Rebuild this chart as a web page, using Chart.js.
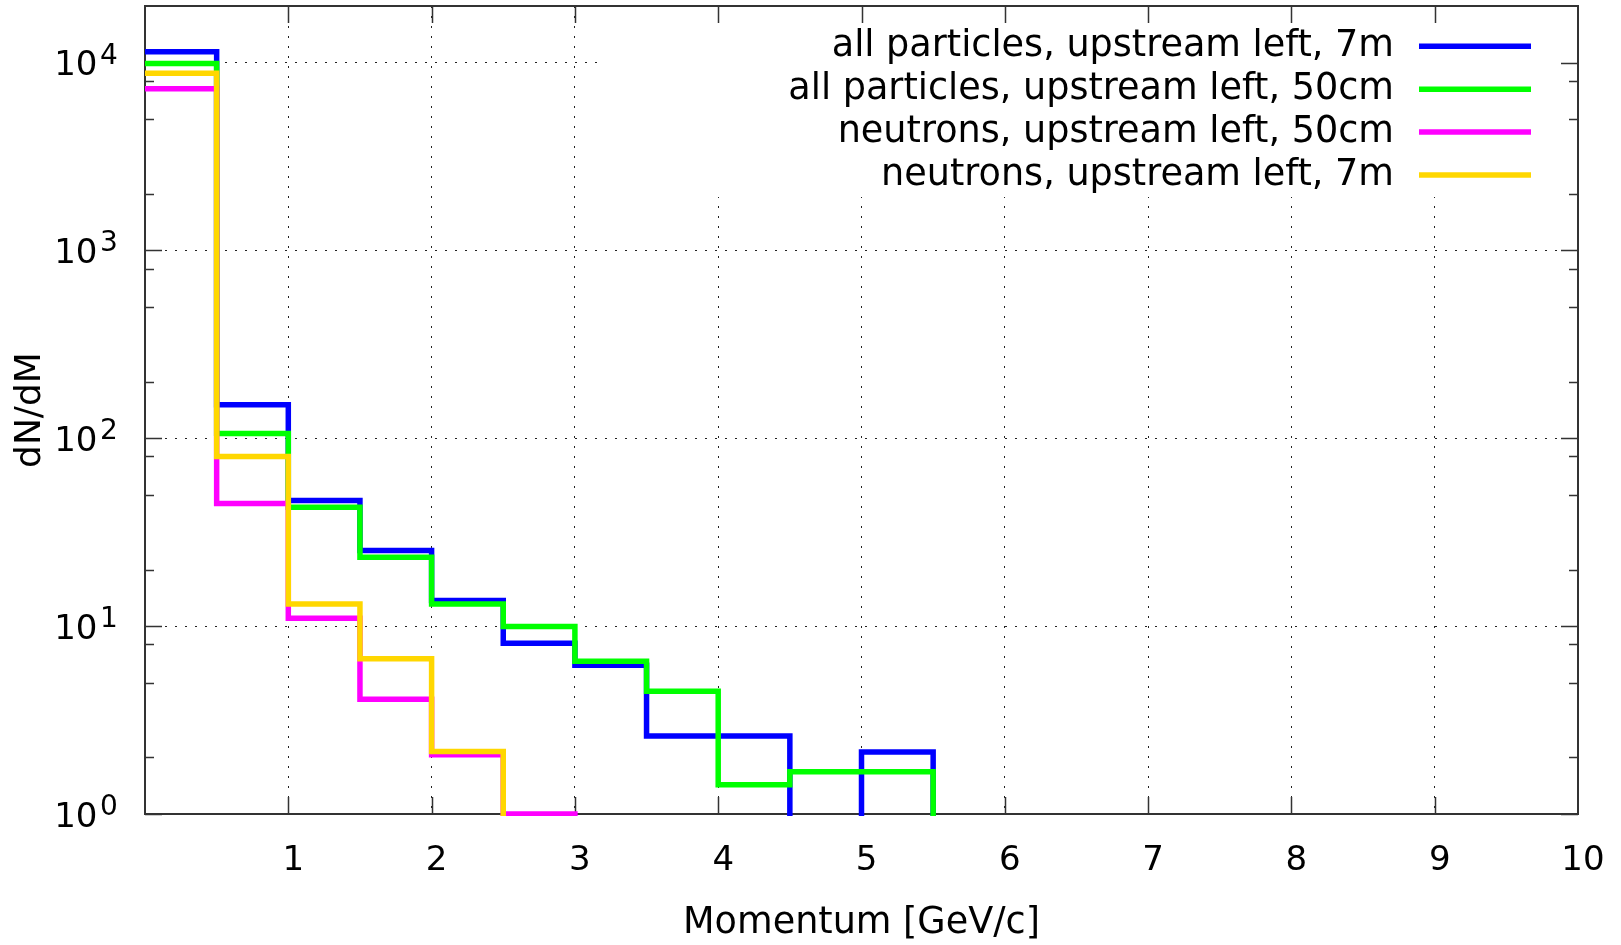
<!DOCTYPE html>
<html>
<head>
<meta charset="utf-8">
<script src="https://cdn.jsdelivr.net/npm/chart.js@4.4.0/dist/chart.umd.min.js"></script>
<style>
    html, body { margin: 0; padding: 0; background: #fff; }
    #wrap { width: 1621px; height: 945px; }
</style>
</head>
<body>
<div id="wrap"><canvas id="myChart"></canvas></div>
<script>

Chart.defaults.font.family = '"DejaVu Sans", sans-serif';
Chart.defaults.color = '#000';

// left edge of every bin (GeV/c), bins are 0.5 wide
var binEdges = [0, 0.5, 1, 1.5, 2, 2.5, 3, 3.5, 4, 4.5, 5, 5.5];

// dN/dM per bin; 0 = empty bin
var allUp7m    = [11400, 151, 46.7, 25.3, 13.7, 8.1, 6.2, 2.6, 2.6, 0, 2.14, 0];
var allUp50cm  = [9870, 106, 43, 23.3, 13.1, 9.95, 6.5, 4.5, 1.43, 1.68, 1.68, 0];
var neutUp50cm = [7260, 45, 11, 4.08, 2.07, 1, 0];
var neutUp7m   = [8760, 80, 13.1, 6.7, 2.15, 0];

var seriesLabels = [
    'all particles, upstream left, 7m',
    'all particles, upstream left, 50cm',
    'neutrons, upstream left, 50cm',
    'neutrons, upstream left, 7m'
];
var seriesColors = ['#0000ff', '#00ff00', '#ff00ff', '#ffd700'];

var xTickValues = [1, 2, 3, 4, 5, 6, 7, 8, 9];
var yDecades = [1, 10, 100, 1000, 10000];
var yExponents = ['0', '1', '2', '3', '4'];
var yMinorSteps = [2, 5, 8];

var Y_MIN = 1, Y_MAX = 20000;
var EMPTY = 0.1;   // below the axis, so an empty bin drops out of the frame


function steps(values) {
    return values.map(function (v, i) {
        return { x: binEdges[i], y: v > 0 ? v : EMPTY };
    });
}

var allSeries = [allUp7m, allUp50cm, neutUp50cm, neutUp7m];

var datasets = allSeries.map(function (vals, i) {
    return {
        label: seriesLabels[i],
        data: steps(vals),
        borderColor: seriesColors[i],
        backgroundColor: seriesColors[i],
        borderWidth: 5.5,
        borderJoinStyle: 'miter',
        borderCapStyle: 'butt',
        stepped: 'before',
        pointRadius: 0,
        fill: false,
        clip: { left: 0, top: 0, right: 0, bottom: 2 },
        order: allSeries.length - i      // gnuplot draws the last one on top
    };
});


function hideEdge(edges) {
    return function (c) {
        if (c.tick && edges.indexOf(c.tick.value) >= 0) return 'rgba(0,0,0,0)';
        return '#222';
    };
}


// frame with inward ticks, opaque key box, key and 10^n labels
var gnuplotLook = {
    id: 'gnuplotLook',

    beforeDatasetsDraw: function (chart) {
        var ctx = chart.ctx, a = chart.chartArea;
        var xs = chart.scales.x, ys = chart.scales.y;

        ctx.save();
        ctx.fillStyle = '#fff';
        ctx.fillRect(604, a.top, a.right - 604, 197 - a.top);

        ctx.strokeStyle = '#333';
        ctx.lineWidth = 2;
        ctx.strokeRect(a.left, a.top, a.right - a.left, a.bottom - a.top);

        ctx.lineWidth = 1.5;
        ctx.beginPath();
        xTickValues.forEach(function (v) {
            var px = Math.round(xs.getPixelForValue(v)) + 0.5;
            ctx.moveTo(px, a.bottom); ctx.lineTo(px, a.bottom - 17);
            ctx.moveTo(px, a.top);    ctx.lineTo(px, a.top + 17);
        });
        yDecades.forEach(function (d) {
            var py = Math.round(ys.getPixelForValue(d)) + 0.5;
            ctx.moveTo(a.left, py);  ctx.lineTo(a.left + 17, py);
            ctx.moveTo(a.right, py); ctx.lineTo(a.right - 17, py);
            yMinorSteps.forEach(function (m) {
                var v = d * m;
                if (v >= Y_MAX) return;
                var pm = Math.round(ys.getPixelForValue(v)) + 0.5;
                ctx.moveTo(a.left, pm);  ctx.lineTo(a.left + 9, pm);
                ctx.moveTo(a.right, pm); ctx.lineTo(a.right - 9, pm);
            });
        });
        ctx.stroke();
        ctx.restore();
    },

    afterDraw: function (chart) {
        var ctx = chart.ctx, a = chart.chartArea;
        var ys = chart.scales.y;

        ctx.save();
        ctx.fillStyle = '#000';

        // key: text right aligned, sample line to its right
        ctx.font = '36.6px "DejaVu Sans"';
        ctx.textAlign = 'right';
        ctx.textBaseline = 'middle';
        seriesLabels.forEach(function (lab, i) {
            var ry = a.top + 40.3 + i * 42.9;
            ctx.fillText(lab, a.right - 184, ry);
            ctx.strokeStyle = seriesColors[i];
            ctx.lineWidth = 5.5;
            ctx.beginPath();
            ctx.moveTo(a.right - 159, ry);
            ctx.lineTo(a.right - 47, ry);
            ctx.stroke();
        });

        // y labels as 10 with a raised exponent
        ctx.textBaseline = 'alphabetic';
        yDecades.forEach(function (d, i) {
            var py = ys.getPixelForValue(d);
            ctx.font = '34px "DejaVu Sans"';
            ctx.textAlign = 'right';
            ctx.fillText('10', 97.5, py + 12.5);
            ctx.font = '28px "DejaVu Sans"';
            ctx.textAlign = 'left';
            ctx.fillText(yExponents[i], 100, py + 1);
        });
        ctx.restore();
    }
};


var ctx = document.getElementById('myChart');
var myChart = new Chart(ctx, {
    type: 'line',
    data: { datasets: datasets },
    plugins: [gnuplotLook],
    options: {
        responsive: true,
        maintainAspectRatio: false,
        animation: false,
        layout: { padding: { top: 6, right: 43, left: 0, bottom: 0 } },
        plugins: {
            legend: { display: false },
            tooltip: { enabled: false }
        },
        scales: {
            x: {
                type: 'linear',
                min: 0,
                max: 10,
                afterFit: function (s) { s.height = 131; },
                ticks: {
                    stepSize: 1,
                    autoSkip: false,
                    maxRotation: 0,
                    padding: 0,
                    labelOffset: 5,
                    font: { size: 34 },
                    callback: function (v) { return v === 0 ? '' : v; }
                },
                // invisible tick marks only push the labels down
                grid: {
                    drawTicks: true,
                    tickLength: 27,
                    tickColor: 'rgba(0,0,0,0)',
                    lineWidth: 1,
                    color: hideEdge([0, 10])
                },
                border: { display: false, dash: [2, 8] },
                title: {
                    display: true,
                    text: 'Momentum [GeV/c]',
                    font: { size: 36.6, lineHeight: 1.05 },
                    padding: { top: 0, bottom: 2 }
                }
            },
            y: {
                type: 'logarithmic',
                min: Y_MIN,
                max: Y_MAX,
                afterFit: function (s) { s.width = 145; },
                afterBuildTicks: function (s) {
                    s.ticks = yDecades.map(function (v) { return { value: v, major: true }; });
                },
                ticks: { display: false },
                grid: { drawTicks: false, lineWidth: 1, color: hideEdge([Y_MIN]) },
                border: { display: false, dash: [2, 8] },
                title: {
                    display: true,
                    text: 'dN/dM',
                    font: { size: 36 },
                    padding: { top: 9, bottom: 0 }
                }
            }
        }
    }
});

</script>
</body>
</html>
